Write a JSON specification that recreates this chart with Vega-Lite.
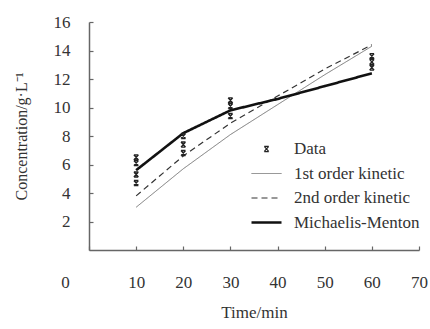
{
  "$schema": "https://vega.github.io/schema/vega-lite/v6.json",
  "width": 330,
  "height": 228,
  "autosize": "none",
  "padding": {"left": 89, "top": 22, "right": 11, "bottom": 79},
  "background": "white",
  "config": {
    "view": {"stroke": null},
    "font": "Liberation Serif",
    "axis": {
      "grid": false,
      "domain": true,
      "ticks": true,
      "domainColor": "#666",
      "domainWidth": 1.5,
      "tickColor": "#666",
      "tickWidth": 1.2,
      "tickSize": -4,
      "labelFont": "Liberation Serif",
      "labelFontSize": 17,
      "labelColor": "#333",
      "titleFont": "Liberation Serif",
      "titleFontSize": 17,
      "titleFontWeight": "normal",
      "titleColor": "#333"
    },
    "legend": {
      "orient": "none",
      "legendX": 161,
      "legendY": 118,
      "padding": 0,
      "symbolSize": 900,
      "clipHeight": 18,
      "rowPadding": 6.5,
      "labelFont": "Liberation Serif",
      "labelFontSize": 17,
      "labelColor": "#333",
      "labelOffset": 11
    }
  },
  "data": {
    "values": [
      {"series": "1st order kinetic", "time": 10, "conc": 3.0},
      {"series": "1st order kinetic", "time": 20, "conc": 5.7},
      {"series": "1st order kinetic", "time": 30, "conc": 8.1},
      {"series": "1st order kinetic", "time": 40, "conc": 10.2},
      {"series": "1st order kinetic", "time": 50, "conc": 12.3},
      {"series": "1st order kinetic", "time": 60, "conc": 14.3},
      {"series": "2nd order kinetic", "time": 10, "conc": 3.8},
      {"series": "2nd order kinetic", "time": 20, "conc": 6.6},
      {"series": "2nd order kinetic", "time": 30, "conc": 8.9},
      {"series": "2nd order kinetic", "time": 40, "conc": 10.8},
      {"series": "2nd order kinetic", "time": 50, "conc": 12.7},
      {"series": "2nd order kinetic", "time": 60, "conc": 14.4},
      {"series": "Michaelis-Menton", "time": 10, "conc": 5.6},
      {"series": "Michaelis-Menton", "time": 20, "conc": 8.2},
      {"series": "Michaelis-Menton", "time": 30, "conc": 9.8},
      {"series": "Michaelis-Menton", "time": 40, "conc": 10.6},
      {"series": "Michaelis-Menton", "time": 50, "conc": 11.5},
      {"series": "Michaelis-Menton", "time": 60, "conc": 12.4},
      {"series": "Data", "time": 10, "conc": 6.5},
      {"series": "Data", "time": 10, "conc": 6.1},
      {"series": "Data", "time": 10, "conc": 5.3},
      {"series": "Data", "time": 10, "conc": 4.7},
      {"series": "Data", "time": 20, "conc": 8.0},
      {"series": "Data", "time": 20, "conc": 7.4},
      {"series": "Data", "time": 20, "conc": 6.8},
      {"series": "Data", "time": 30, "conc": 10.5},
      {"series": "Data", "time": 30, "conc": 10.1},
      {"series": "Data", "time": 30, "conc": 9.4},
      {"series": "Data", "time": 60, "conc": 13.6},
      {"series": "Data", "time": 60, "conc": 13.2},
      {"series": "Data", "time": 60, "conc": 12.8}
    ]
  },
  "encoding": {
    "x": {
      "field": "time",
      "type": "quantitative",
      "scale": {"domain": [0, 70], "nice": false},
      "axis": {
        "values": [0, 10, 20, 30, 40, 50, 60, 70],
        "labelOffset": {"condition": {"test": "datum.value === 0", "value": -24}, "value": 0},
        "labelFlush": false,
        "labelPadding": 28,
        "title": "Time/min",
        "titlePadding": 14
      }
    },
    "y": {
      "field": "conc",
      "type": "quantitative",
      "scale": {"domain": [0, 16], "nice": false},
      "axis": {
        "values": [2, 4, 6, 8, 10, 12, 14, 16],
        "labelPadding": 23,
        "title": "Concentration/g·L⁻¹",
        "titleFontSize": 16,
        "titlePadding": 24
      }
    }
  },
  "layer": [
    {
      "transform": [{"filter": "datum.series !== 'Data'"}],
      "mark": {"type": "line"},
      "encoding": {
        "color": {
          "field": "series", "type": "nominal",
          "scale": {"domain": ["Data", "1st order kinetic", "2nd order kinetic", "Michaelis-Menton"], "range": ["#222", "#777", "#333", "#111"]},
          "legend": {"title": null}
        },
        "strokeDash": {
          "field": "series", "type": "nominal",
          "scale": {"domain": ["Data", "1st order kinetic", "2nd order kinetic", "Michaelis-Menton"], "range": [[1, 0], [1, 0], [6, 4], [1, 0]]},
          "legend": {"title": null}
        },
        "strokeWidth": {
          "field": "series", "type": "nominal",
          "scale": {"type": "ordinal", "domain": ["Data", "1st order kinetic", "2nd order kinetic", "Michaelis-Menton"], "range": [1.2, 1, 1.2, 2.6]},
          "legend": {"title": null}
        }
      }
    },
    {
      "transform": [{"filter": "datum.series === 'Data'"}],
      "mark": {"type": "point", "filled": false, "size": 900, "opacity": 1, "strokeWidth": 1.4},
      "encoding": {
        "color": {
          "field": "series", "type": "nominal",
          "scale": {"domain": ["Data", "1st order kinetic", "2nd order kinetic", "Michaelis-Menton"], "range": ["#222", "#777", "#333", "#111"]},
          "legend": {"title": null}
        },
        "shape": {
          "field": "series", "type": "nominal",
          "scale": {"domain": ["Data", "1st order kinetic", "2nd order kinetic", "Michaelis-Menton"], "range": ["M-0.15,-0.17L0.15,-0.17M-0.15,0.17L0.15,0.17M-0.15,-0.17L0.15,0.17M0.15,-0.17L-0.15,0.17", "stroke", "stroke", "stroke"]},
          "legend": {"title": null}
        }
      }
    }
  ]
}
